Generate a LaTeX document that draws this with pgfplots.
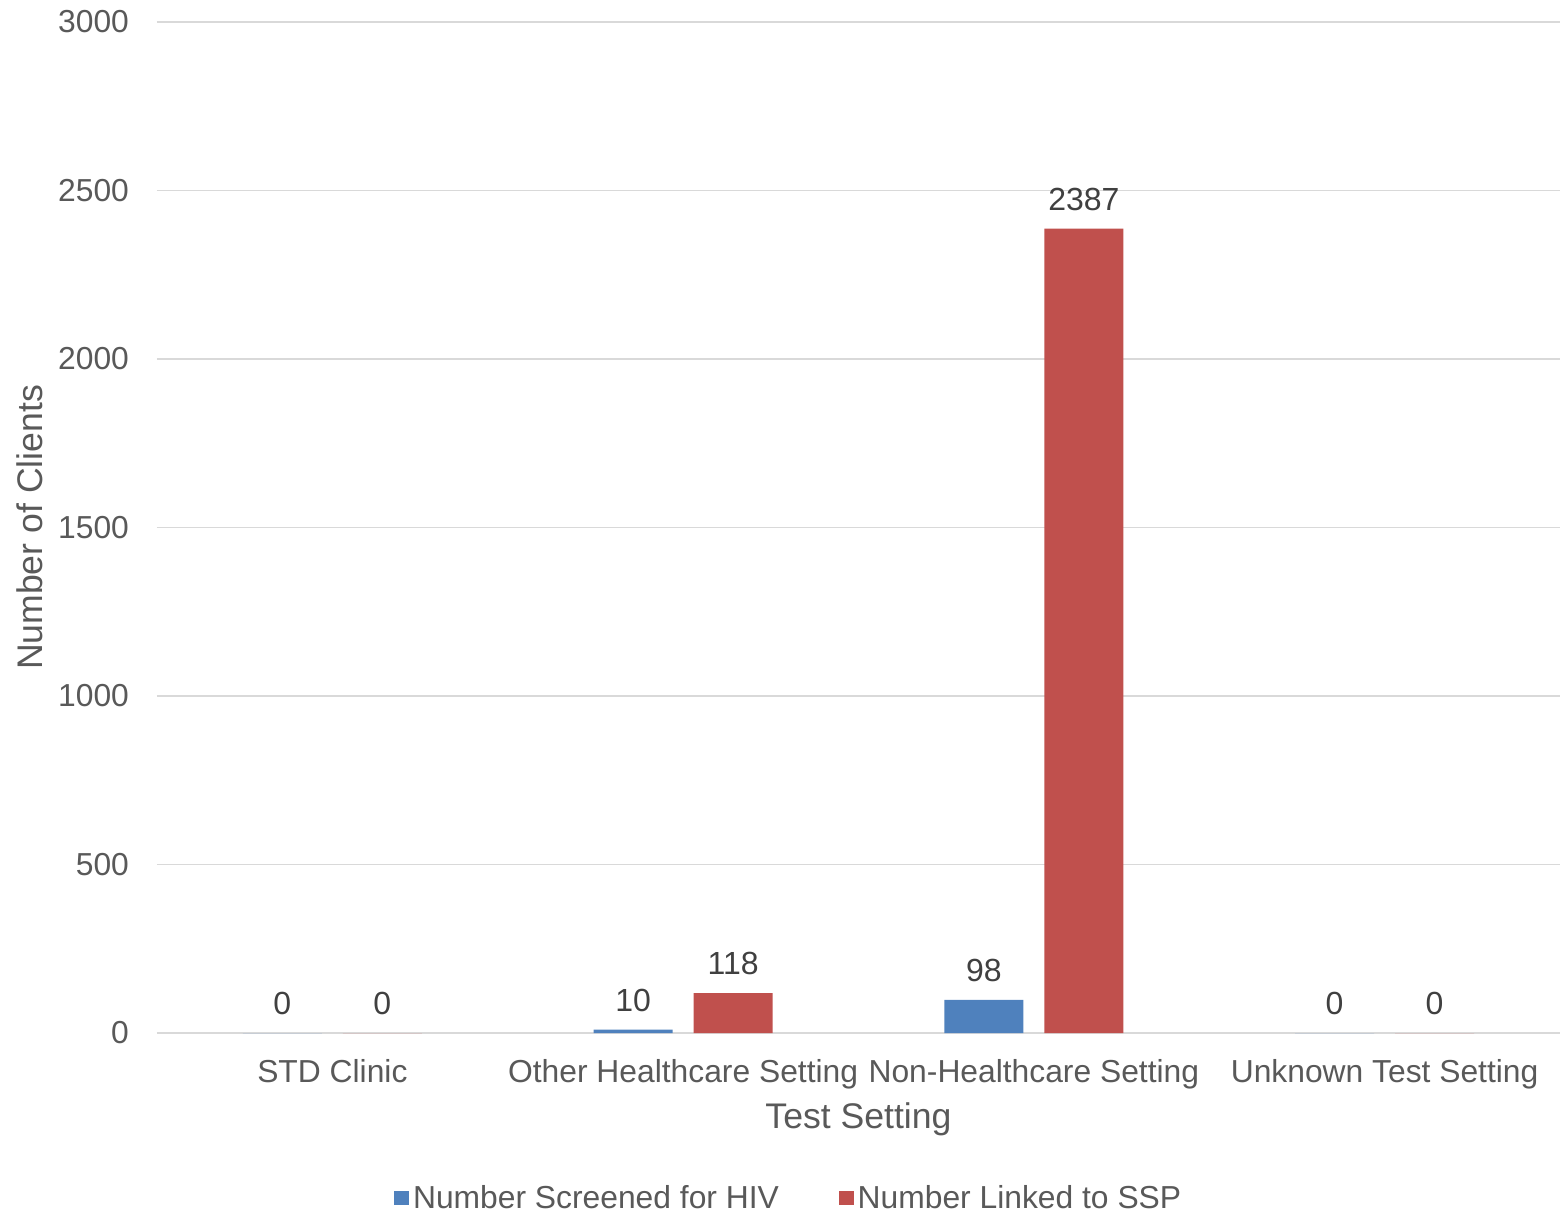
\documentclass[border=0pt]{standalone}
\usepackage{pgfplots}
\pgfplotsset{compat=1.18}
\usepackage{fontspec}
\setmainfont{Liberation Sans}
\definecolor{cblue}{HTML}{4F81BD}
\definecolor{cred}{HTML}{C0504D}
\definecolor{tgray}{HTML}{595959}
\definecolor{dgray}{HTML}{404040}
\definecolor{ggray}{HTML}{D9D9D9}
\begin{document}
\begin{tikzpicture}
\useasboundingbox (-78.5pt,-89.5pt) rectangle (701.5pt,516.5pt);
\begin{axis}[
  at={(0,0)}, anchor=south west,
  scale only axis,
  width=701.5pt, height=505.5pt,
  ybar=10.5pt, bar width=39.5pt,
  xmin=-0.5, xmax=3.5, ymin=0, ymax=3000,
  xtick={0,1,2,3},
  xticklabels={STD Clinic,Other Healthcare Setting,Non-Healthcare Setting,Unknown Test Setting},
  ytick={0,500,1000,1500,2000,2500,3000},
  /pgf/number format/assume math mode=true,
  /pgf/number format/1000 sep={},
  ymajorgrids, grid style={ggray, line width=0.6pt},
  axis line style={draw=none},
  major tick length=0pt,
  tick label style={font=\fontsize{15.9}{18}\selectfont, text=tgray},
  yticklabel style={xshift=-10.5pt},
  xticklabel style={yshift=-9.5pt},
  ylabel={Number of Clients},
  xlabel={Test Setting},
  label style={font=\fontsize{17.8}{20}\selectfont, text=tgray},
  xlabel style={yshift=0pt},
  ylabel style={yshift=1pt},
  nodes near coords,
  nodes near coords style={font=\fontsize{16}{18}\selectfont, text=dgray, yshift=5.5pt},
  legend style={at={(0.451,-0.142)}, anchor=north, draw=none, legend columns=2, font=\fontsize{15.9}{18}\selectfont, text=tgray, /tikz/every even column/.append style={column sep=28pt}},
  legend image code/.code={\fill[#1] (0pt,-3.7pt) rectangle (7.4pt,3.7pt);},
  clip=false,
]
\addplot[fill=cblue, draw=none] coordinates {(0,0) (1,10) (2,98) (3,0)};
\addplot[fill=cred, draw=none] coordinates {(0,0) (1,118) (2,2387) (3,0)};
\legend{Number Screened for HIV, Number Linked to SSP}
\end{axis}
\end{tikzpicture}
\end{document}
